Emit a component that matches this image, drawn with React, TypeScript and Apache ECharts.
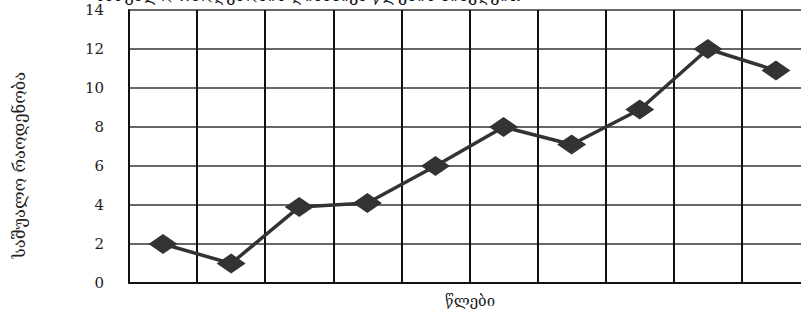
import React, { useEffect, useRef } from "react";
import * as echarts from "echarts";

const categories = ["1", "2", "3", "4", "5", "6", "7", "8", "9", "10"];
const values = [2, 1, 3.9, 4.1, 6, 8, 7.1, 8.9, 12, 10.9];
const yTicks = [0, 2, 4, 6, 8, 10, 12, 14];
const yAxisTitle = "საშუალო რაოდენობა";
const xAxisTitle = "წლები";
const chartTitle = "საშუალო რაოდენობის დინამიკა წლების მიხედვით";

export default function App() {
  const ref = useRef<HTMLDivElement>(null);
  useEffect(() => {
    if (!ref.current) return;
    const chart = echarts.init(ref.current, null, { renderer: "svg" });
    chart.setOption({
      animation: false,
      backgroundColor: "#ffffff",
      grid: { left: 129, top: 10, width: 681, height: 273, outerBoundsMode: "none", containLabel: false },
      graphic: [
        {
          type: "text",
          left: 95,
          top: -13,
          style: {
            text: chartTitle,
            font: "16px 'DejaVu Serif', serif",
            fill: "#111",
          },
        },
        {
          type: "text",
          x: 19,
          y: 165,
          rotation: Math.PI / 2,
          style: {
            text: yAxisTitle,
            font: "16.5px 'DejaVu Serif', serif",
            fill: "#222",
            align: "center",
            verticalAlign: "middle",
          },
        },
        {
          type: "text",
          x: 470,
          y: 301,
          style: {
            text: xAxisTitle,
            font: "15px 'DejaVu Serif', serif",
            fill: "#222",
            align: "center",
            verticalAlign: "middle",
          },
        },
      ],
      xAxis: {
        type: "category",
        data: categories,
        boundaryGap: true,
        axisLabel: { show: false },
        axisTick: { show: false },
        axisLine: { lineStyle: { color: "#111", width: 2 } },
        splitLine: { show: true, lineStyle: { color: "#111", width: 2 } },
      },
      yAxis: {
        type: "value",
        min: 0,
        max: 14,
        interval: 2,
        axisLabel: {
          margin: 25,
          fontFamily: "'DejaVu Serif', serif",
          fontSize: 15,
          color: "#222",
          formatter: (v: number) => (yTicks.includes(v) ? String(v) : ""),
        },
        axisTick: { show: false },
        axisLine: { show: true, lineStyle: { color: "#111", width: 2 } },
        splitLine: { show: true, lineStyle: { color: "#666", width: 2 } },
      },
      series: [
        {
          type: "line",
          data: values,
          symbol: "diamond",
          symbolSize: [29, 20],
          itemStyle: { color: "#333" },
          lineStyle: { color: "#333", width: 3.5 },
        },
      ],
    });
    return () => chart.dispose();
  }, []);
  return (
    <div style={{ position: "fixed", left: 0, top: 0, width: 801, height: 314, overflow: "hidden", background: "#fff" }}>
      <div ref={ref} style={{ width: 820, height: 314 }} />
    </div>
  );
}
